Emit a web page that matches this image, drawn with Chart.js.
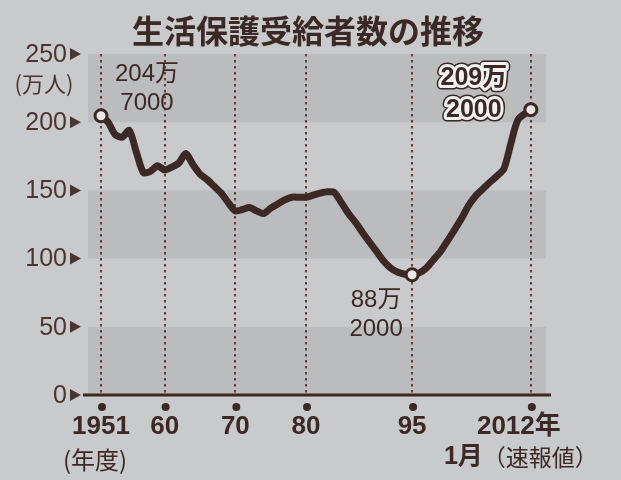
<!DOCTYPE html>
<html lang="ja">
<head>
<meta charset="UTF-8">
<title>生活保護受給者数の推移</title>
<script src="https://cdn.jsdelivr.net/npm/chart.js@4/dist/chart.umd.min.js"></script>
<style>
  body { margin: 0; background: #c9cacb; }
  canvas { display: block; }
</style>
</head>
<body>
<canvas id="chart" width="621" height="480"></canvas>
<script>
// fiscal years (2011.8 = January 2012, preliminary)
const years = [
  1951, 1952, 1953, 1954, 1955, 1956, 1957, 1958, 1959, 1960,
  1961, 1962, 1963, 1964, 1965, 1966, 1967, 1968, 1969, 1970,
  1971, 1972, 1973, 1974, 1975, 1976, 1977, 1978, 1979, 1980,
  1981, 1982, 1983, 1984, 1985, 1986, 1987, 1988, 1989, 1990,
  1991, 1992, 1993, 1994, 1995, 1996, 1997, 1998, 1999, 2000,
  2001, 2002, 2003, 2004, 2005, 2006, 2007, 2008, 2009, 2010,
  2011.8
];
// recipients, in 10,000 people (万人)
const recipients = [
  204.7, 200, 191, 189, 194, 178, 163, 164, 168, 165,
  167, 170, 177, 169, 162, 158, 153, 148, 141, 135,
  136, 137.5, 135, 133, 137, 140, 143, 145, 145, 145,
  146.5, 148, 149, 148.5, 141, 133, 126.5, 119, 112, 105,
  98, 93, 90, 88.5, 88.2, 89.5, 93, 99, 105, 113,
  121, 129.5, 139, 146, 151, 156, 160.5, 166, 185, 202,
  209.2
];

const xTicks = [1951, 1960, 1970, 1980, 1995, 2011.8];
const xTickLabels = ["1951", "60", "70", "80", "95", "2012年"];
const yTicks = [0, 50, 100, 150, 200, 250];
const yTickLabels = ["0", "50", "100", "150", "200", "250"];
const shadedBands = [[0, 50], [100, 150], [200, 250]];

const markedYears = [1951, 1995, 2011.8];
const markedNotes = [["204万", "7000"], ["88万", "2000"], ["209万", "2000"]];

const dark = "#3a2927";
const labelFont = '"Liberation Sans", "Noto Sans CJK JP", sans-serif';
const cjkFont = '"Noto Sans CJK JP", sans-serif';

const paper = {
  id: "paper",
  beforeDraw(chart) {
    const { ctx, chartArea: a, scales: { x, y } } = chart;
    ctx.save();
    ctx.fillStyle = "#c9cacb";
    ctx.fillRect(0, 0, chart.width, chart.height);

    // grey bands
    ctx.fillStyle = "#bbbcbe";
    shadedBands.forEach(([lo, hi]) => {
      const top = y.getPixelForValue(hi);
      const bottom = y.getPixelForValue(lo);
      ctx.fillRect(a.left, top, a.right - a.left, bottom - top);
    });

    // dotted verticals
    ctx.strokeStyle = "#6a3a35";
    ctx.lineWidth = 2;
    ctx.setLineDash([2.5, 3.5]);
    xTicks.forEach((t) => {
      const px = Math.round(x.getPixelForValue(t));
      ctx.beginPath();
      ctx.moveTo(px, a.top);
      ctx.lineTo(px, a.bottom);
      ctx.stroke();
    });
    ctx.setLineDash([]);

    // baseline
    const y0 = y.getPixelForValue(0);
    ctx.strokeStyle = dark;
    ctx.lineWidth = 3;
    ctx.beginPath();
    ctx.moveTo(a.left - 5, y0);
    ctx.lineTo(a.right + 5, y0);
    ctx.stroke();

    // dots + x labels
    ctx.fillStyle = dark;
    ctx.textAlign = "center";
    ctx.textBaseline = "middle";
    xTicks.forEach((t, i) => {
      const px = x.getPixelForValue(t);
      ctx.beginPath();
      ctx.arc(px + 1, y0 + 12, 4, 0, Math.PI * 2);
      ctx.fill();
      ctx.font = "bold 26px " + labelFont;
      const shift = i === xTicks.length - 1 ? -12 : 0;
      ctx.fillText(xTickLabels[i], px + shift, y0 + 32);
    });
    ctx.font = "24px " + cjkFont;
    ctx.fillText("(年度)", x.getPixelForValue(xTicks[0]) - 6, y0 + 65);

    // "1月（速報値）" under 2012
    const lastX = x.getPixelForValue(xTicks[xTicks.length - 1]) - 10;
    ctx.font = "bold 25px " + labelFont;
    const w1 = ctx.measureText("1月").width;
    ctx.font = "23px " + cjkFont;
    const w2 = ctx.measureText("（速報値）").width;
    let sx = lastX - (w1 + w2) / 2;
    ctx.textAlign = "left";
    ctx.font = "bold 25px " + labelFont;
    ctx.fillText("1月", sx, y0 + 62);
    ctx.font = "23px " + cjkFont;
    ctx.fillText("（速報値）", sx + w1, y0 + 62);

    // y labels with triangles
    ctx.fillStyle = "#4a3533";
    ctx.textAlign = "right";
    ctx.font = "25px " + labelFont;
    yTicks.forEach((v, i) => {
      const py = y.getPixelForValue(v);
      ctx.fillText(yTickLabels[i], 67, py + 1);
      ctx.beginPath();
      ctx.moveTo(70, py - 6);
      ctx.lineTo(81, py);
      ctx.lineTo(70, py + 6);
      ctx.closePath();
      ctx.fill();
    });
    ctx.textAlign = "center";
    ctx.font = "22px " + cjkFont;
    ctx.fillText("(万人)", 44, 84);

    // title
    ctx.fillStyle = dark;
    ctx.font = "bold 32px " + cjkFont;
    ctx.fillText("生活保護受給者数の推移", 308, 31);
    ctx.restore();
  },
  afterDatasetsDraw(chart) {
    const { ctx, scales: { x, y } } = chart;
    // note offsets from each marked point
    const offsets = [
      { dx: 46, dy: [-41, -12], bold: false },
      { dx: -36, dy: [26, 55], bold: false },
      { dx: -57, dy: [-32, 0], bold: true }
    ];
    ctx.save();
    ctx.textAlign = "center";
    ctx.textBaseline = "middle";
    ctx.lineJoin = "round";
    markedYears.forEach((yr, i) => {
      const idx = years.indexOf(yr);
      const px = x.getPixelForValue(yr);
      const py = y.getPixelForValue(recipients[idx]);
      const o = offsets[i];
      markedNotes[i].forEach((line, j) => {
        const tx = px + o.dx;
        const ty = py + o.dy[j];
        if (o.bold) {
          ctx.font = "bold 25px " + labelFont;
          ctx.strokeStyle = dark;
          ctx.lineWidth = 9;
          ctx.strokeText(line, tx, ty);
          ctx.strokeStyle = "#f2f2f0";
          ctx.lineWidth = 6;
          ctx.strokeText(line, tx, ty);
        } else {
          ctx.font = "24px " + labelFont;
        }
        ctx.fillStyle = dark;
        ctx.fillText(line, tx, ty);
      });
    });
    ctx.restore();
  }
};

new Chart(document.getElementById("chart"), {
  type: "line",
  data: {
    datasets: [
      {
        data: years.map((yr, i) => ({ x: yr, y: recipients[i] })),
        borderColor: dark,
        borderWidth: 7,
        tension: 0.25,
        clip: false,
        pointRadius: (c) => (markedYears.includes(years[c.dataIndex]) ? 6 : 0),
        pointBackgroundColor: "#e8e8e6",
        pointBorderColor: dark,
        pointBorderWidth: 3
      }
    ]
  },
  options: {
    responsive: false,
    animation: false,
    events: [],
    layout: { padding: { left: 88, right: 75, top: 54, bottom: 85 } },
    plugins: { legend: { display: false }, tooltip: { enabled: false } },
    scales: {
      x: { type: "linear", min: 1949.16, max: 2013.94, display: false },
      y: { min: 0, max: 250, display: false }
    }
  },
  plugins: [paper]
});
</script>
</body>
</html>
